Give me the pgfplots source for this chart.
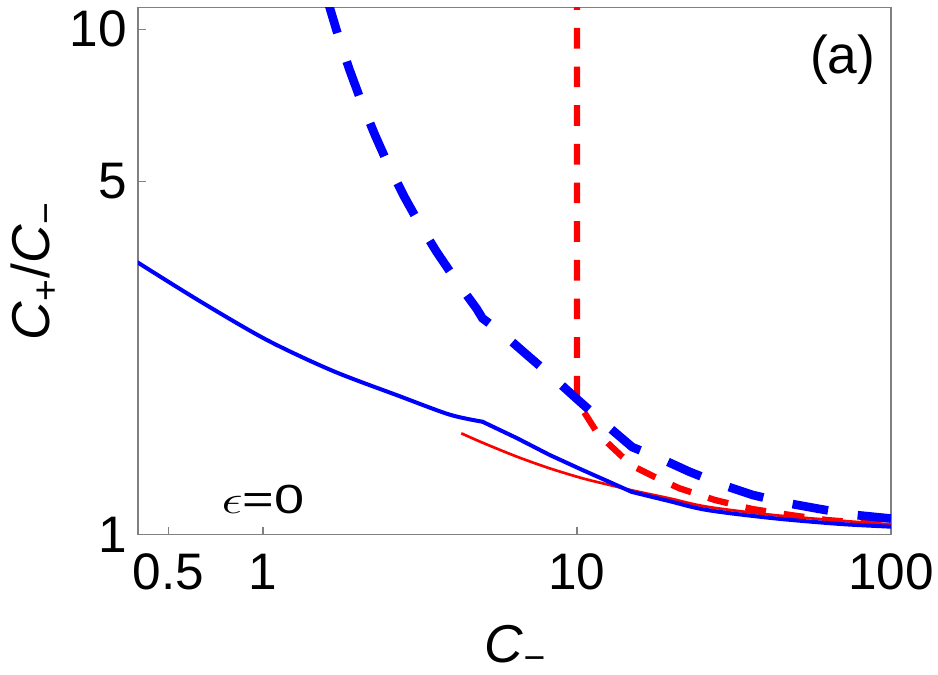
\documentclass[border=0pt]{standalone}
\usepackage{pgfplots}
\pgfplotsset{compat=1.18}
\usepackage{fontspec}
\setmainfont{Liberation Sans}
\definecolor{axgray}{RGB}{128,128,128}
\begin{document}
\begin{tikzpicture}
\useasboundingbox (0,0) rectangle (281.4pt,202.5pt);
\begin{axis}[
  at={(41.4pt,42.1pt)}, anchor=south west,
  scale only axis, width=225.9pt, height=158.2pt,
  xmode=log, ymode=log,
  xmin=0.4, xmax=100, ymin=1, ymax=11.05,
  xtick={0.5,1,10,100}, xticklabels={0.5,1,10,100},
  ytick={1,5,10}, yticklabels={1,5,10},
  minor xtick={}, minor ytick={},
  xtick pos=bottom, ytick pos=left,
  tick align=inside,
  major tick length=2.4pt,
  every tick/.style={axgray, line width=0.35pt},
  axis line style={axgray, line width=0.35pt},
  tick label style={font=\fontsize{15.4}{18}\selectfont, inner sep=0pt},
  xticklabel style={anchor=north, yshift=-5.6pt},
  yticklabel style={anchor=east, xshift=-3.2pt},
  xlabel={\textit{C}\textsubscript{−}},
  ylabel={\textit{C}\textsubscript{+}/\textit{C}\textsubscript{−}},
  label style={font=\fontsize{16}{19}\selectfont},
  xlabel style={at={(axis description cs:0.502,-0.2415)}, anchor=base},
  ylabel style={at={(axis description cs:-0.117,0.5)}, anchor=base, rotate=0},
  clip=true,
]
% red dashed
\addplot[red, line width=1.9pt, dash pattern=on 6.2pt off 5.4pt] coordinates {
(10,12) (10,1.84) (11.55,1.597) (12.53,1.518) (13.98,1.424) (15.5,1.355) (17.7,1.30)
(21.2,1.235) (27.5,1.171) (36.1,1.124) (47.6,1.094) (62.4,1.069) (81.5,1.055) (100,1.05)
};
% red thin
\addplot[red, line width=0.8pt, smooth] coordinates {
(4.28,1.587) (5.01,1.52) (6.43,1.427) (8.18,1.353) (10.4,1.293) (12.7,1.254) (14.94,1.224)
(19.7,1.18) (25.9,1.136) (42,1.094) (68.7,1.066) (100,1.048)
};
% blue solid (three pieces: smooth, straight, smooth)
\addplot[blue, line width=1.2pt, smooth, line cap=round] coordinates {
(0.398,3.46) (0.628,2.90) (1.026,2.43) (1.665,2.11) (2.72,1.88) (3.93,1.728) (5.0,1.673)
};
\addplot[blue, line width=1.2pt, line cap=round, line join=round] coordinates {
(5.0,1.673) (6.43,1.553) (8.18,1.438) (10.4,1.343) (12.7,1.271) (14.94,1.215)
};
\addplot[blue, line width=1.2pt, smooth, line cap=round] coordinates {
(14.94,1.215) (19.7,1.165) (25.9,1.119) (42,1.078) (68.7,1.05) (100,1.037)
};
% blue thick dashed
\addplot[blue, line width=2.6pt, dash pattern=on 10.8pt off 9pt] coordinates {
(1.60,11.5) (1.629,11.07) (1.753,9.52) (1.887,8.31) (2.06,7.17) (2.27,6.19) (2.49,5.44)
(2.82,4.66) (3.15,4.12) (3.57,3.63) (4.14,3.17) (4.79,2.80) (5.0,2.68) (5.75,2.51)
(6.92,2.27) (8.37,2.05) (10,1.855) (12.08,1.671) (15,1.49) (18.3,1.418) (22.8,1.332)
(29.1,1.254) (36.3,1.198) (46.9,1.154) (59.3,1.124) (76.7,1.094) (100,1.076)
};
\node[anchor=base, font=\fontsize{16}{19}\selectfont] at (rel axis cs:0.936,0.874) {(a)};
\node[anchor=base, font=\fontsize{12.2}{14}\selectfont, xscale=1.33] at (rel axis cs:0.166,0.041) {$\epsilon$=0};
\end{axis}
\end{tikzpicture}
\end{document}
